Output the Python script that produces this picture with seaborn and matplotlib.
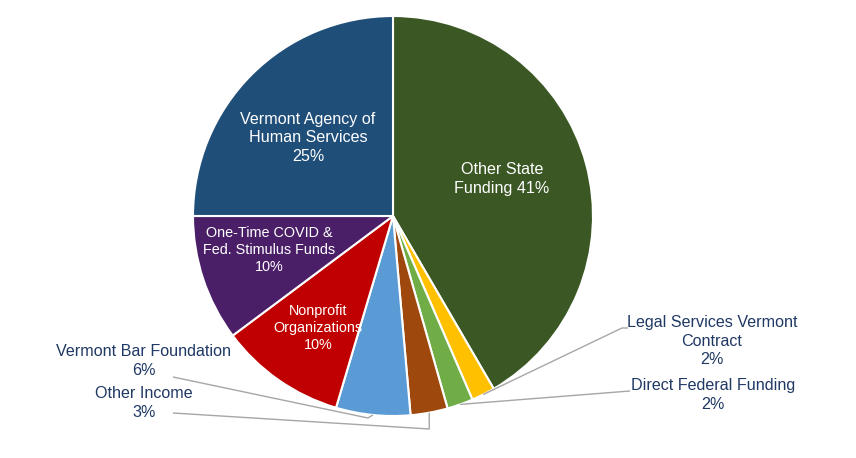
import numpy as np
import seaborn as sns
import matplotlib.pyplot as plt

# Funding sources, clockwise from 12 o'clock
sources = ["Other State\nFunding 41%", "Legal Services Vermont\nContract\n2%",
           "Direct Federal Funding\n2%", "Other Income\n3%",
           "Vermont Bar Foundation\n6%", "Nonprofit\nOrganizations\n10%",
           "One-Time COVID &\nFed. Stimulus Funds\n10%",
           "Vermont Agency of\nHuman Services\n25%"]
shares = [41.6, 1.9, 2.1, 3.0, 6.0, 10.2, 10.2, 25.0]
colors = ["#3A5724", "#FFC000", "#70AD47", "#9E480E", "#5B9BD5",
          "#C00000", "#4A1F68", "#1F4E79"]
inside = [True, False, False, False, False, True, True, True]

sns.set_style("white")
plt.rcParams["font.family"] = ["Liberation Sans", "DejaVu Sans"]

W, H = 856, 458
fig = plt.figure(figsize=(W / 100, H / 100), dpi=100)
ax = fig.add_axes([0, 0, 1, 1])

cx, cy, r = 393, H - 216, 200
wedges, _ = ax.pie(shares, colors=colors, startangle=90, counterclock=False,
                   center=(cx, cy), radius=r,
                   wedgeprops=dict(edgecolor="white", linewidth=1.5))
ax.set_xlim(0, W)
ax.set_ylim(0, H)
ax.set_aspect("equal")
ax.axis("off")

# label placement (pixel coords from top-left) and size
label_pos = {
    0: (502, 179), 1: (712, 341), 2: (713, 395), 3: (144, 403),
    4: (144, 361), 5: (318, 328), 6: (269, 250), 7: (308, 138),
}
label_size = {5: 10.4, 6: 10.4}
for i, w in enumerate(wedges):
    x, y = label_pos[i]
    color = "white" if inside[i] else "#1F3864"
    ax.text(x, H - y, sources[i], ha="center", va="center",
            fontsize=label_size.get(i, 11.6), color=color, linespacing=1.28)

# leader lines for the small outside slices
def edge_point(w):
    mid = np.deg2rad((w.theta1 + w.theta2) / 2)
    return cx + r * np.cos(mid), cy + r * np.sin(mid)

line_kw = dict(color="#A6A6A6", lw=1.0, solid_capstyle="butt")
# Legal Services
ex, ey = edge_point(wedges[1])
ax.plot([ex, 622, 628], [ey, H - 328, H - 328], **line_kw)
# Direct Federal
ex, ey = edge_point(wedges[2])
ax.plot([ex, 630], [ey, H - 391], **line_kw)
# Other Income
ex, ey = edge_point(wedges[3])
ax.plot([ex, ex, 173], [ey, H - 429, H - 413], **line_kw)
# Vermont Bar Foundation
ex, ey = edge_point(wedges[4])
ax.plot([ex, ex - 5, 173], [ey, H - 418, H - 377], **line_kw)

plt.savefig("out.png", dpi=100)
